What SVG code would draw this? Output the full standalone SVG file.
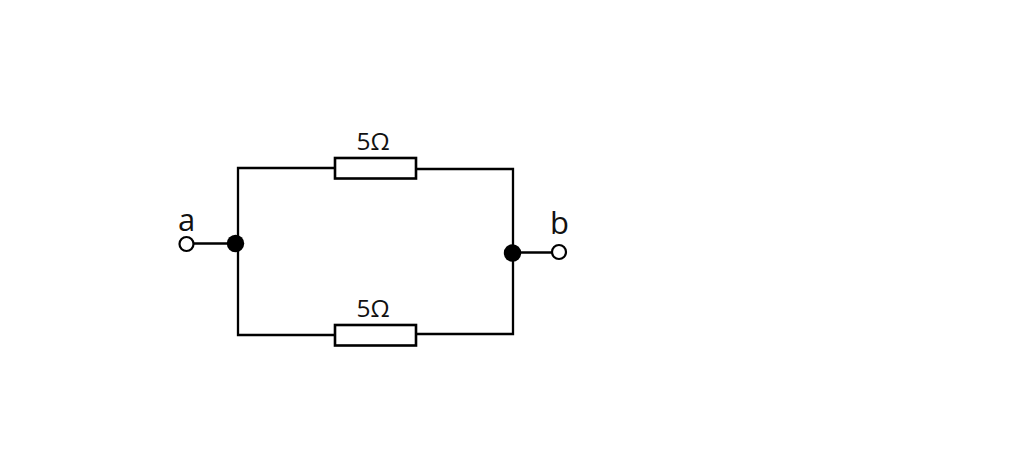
<svg xmlns="http://www.w3.org/2000/svg" width="1024" height="470" viewBox="0 0 1024 470">
<style>
.w{fill:none;stroke:#000;stroke-width:2.300}
.r{fill:#fff;stroke:#000;stroke-width:2.600}
.t{fill:#fff;stroke:#000;stroke-width:2.200}
.d{fill:#000}
text{font-family:"Open Sans","Noto Sans",sans-serif;fill:#111}
</style>
<rect width="1024" height="470" fill="#fff"/>
<g id="connectors">
<path class="w" d="M335 168H238V335H335"/>
<path class="w" d="M416 169H513V334H416"/>
<path class="w" d="M193 243.500H236"/>
<path class="w" d="M513 252.500H552"/>
</g>
<g id="r1"><rect class="r" x="335" y="158" width="81" height="20.500"/><text x="373" y="150" font-size="24.500" text-anchor="middle">5Ω</text></g>
<g id="r2"><rect class="r" x="335" y="325" width="81" height="20.500"/><text x="373" y="317" font-size="24.500" text-anchor="middle">5Ω</text></g>
<g id="node-left"><circle class="d" cx="235.500" cy="243.500" r="8.700"/></g>
<g id="node-right"><circle class="d" cx="512.500" cy="253" r="8.700"/></g>
<g id="terminal-a"><circle class="t" cx="186.500" cy="244" r="7"/><text x="186.500" y="231" font-size="31" text-anchor="middle">a</text></g>
<g id="terminal-b"><circle class="t" cx="559" cy="252" r="7"/><text x="559.500" y="234" font-size="31" text-anchor="middle">b</text></g>
</svg>
